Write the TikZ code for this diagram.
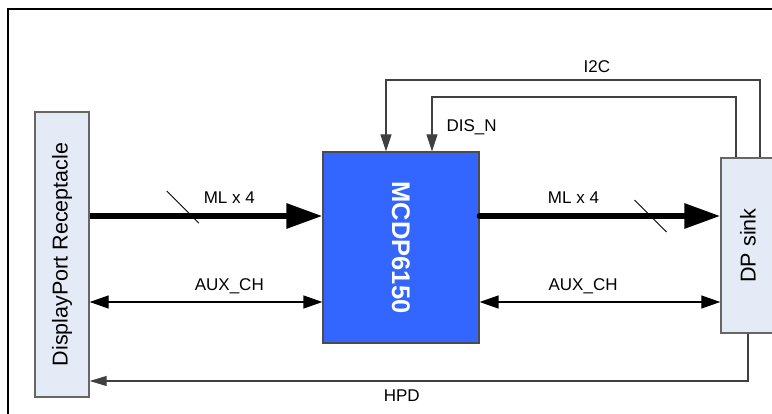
\documentclass[tikz,border=0pt]{standalone}
\usepackage{fontspec}
\setmainfont{Liberation Sans}
\usetikzlibrary{calc,arrows.meta}
\definecolor{boxfill}{HTML}{E4EBF6}
\definecolor{chipblue}{HTML}{3366FF}

\begin{document}
\begin{tikzpicture}[x=1pt,y=1pt,line width=1.3pt,
  lightbox/.style={draw=black!60,fill=boxfill,line width=1.4pt,inner sep=0pt},
  chipbox/.style={draw=black!70,fill=chipblue,line width=1.2pt,inner sep=0pt},
  boxtext/.style={font=\fontsize{21.5}{24}\selectfont,inner sep=0pt},
  chiptext/.style={font=\fontsize{25.5}{28}\selectfont\bfseries,text=white,inner sep=0pt},
  lbl/.style={font=\fontsize{17}{20}\selectfont,inner sep=0pt},
  mainlink/.style={line width=6pt,arrows={-Triangle[length=36pt,width=24pt]}},
  auxlink/.style={line width=1.3pt,arrows={Triangle[length=19pt,width=13pt]-Triangle[length=19pt,width=13pt]}},
  ctrl/.style={draw=black!75,line width=1.2pt,arrows={-Triangle[length=17pt,width=11pt]}},
  slash/.style={line width=0.8pt}]
  \useasboundingbox (0,0) rectangle (772,413);
  \clip (0,0) rectangle (772,413);
  \draw[line width=2.2pt] (8,-20) rectangle (800,404);
  % blocks
  \node[lightbox,minimum width=54pt,minimum height=285pt] (recept) at (62,158.5) {};
  \node[boxtext,rotate=90] (recepttext) at (recept) {DisplayPort Receptacle};
  \node[chipbox,minimum width=156pt,minimum height=191pt] (mcdp) at (401,165.5) {};
  \node[chiptext,rotate=-90] (mcdptext) at (mcdp) {MCDP6150};
  \node[lightbox,minimum width=54pt,minimum height=175pt] (sink) at (748,167.5) {};
  \node[boxtext,rotate=90] (sinktext) at (sink) {DP sink};
  % rows of the connectors
  \coordinate (mlrow) at (0,197); \coordinate (auxrow) at (0,111);
  \coordinate (hpdrow) at (0,32); \coordinate (iicrow) at (0,333); \coordinate (disrow) at (0,316);
  % main link, receptacle -> chip -> sink
  \draw[mainlink] (recept.east |- mlrow) -- coordinate[pos=0.4] (mlcutl) (mcdp.west |- mlrow)
    node[lbl,pos=0.6,yshift=18pt] (mlleft) {ML x 4};
  \draw[slash] ($(mlcutl)+(-16,25)$) -- ($(mlcutl)+(16,-7)$);
  \draw[mainlink,line cap=round] (mcdp.east |- mlrow) -- coordinate[pos=0.71] (mlcutr) (sink.west |- mlrow)
    node[lbl,pos=0.39,yshift=18pt] (mlright) {ML x 4};
  \draw[slash] ($(mlcutr)+(-16,16)$) -- ($(mlcutr)+(16,-16)$);
  % aux channel
  \draw[auxlink] (recept.east |- auxrow) -- (mcdp.west |- auxrow)
    node[lbl,pos=0.6,yshift=16pt] (auxleft) {AUX\_CH};
  \draw[auxlink] (mcdp.east |- auxrow) -- (sink.west |- auxrow)
    node[lbl,pos=0.43,yshift=16pt] (auxright) {AUX\_CH};
  % side band from the sink
  \coordinate (iicout) at ([xshift=12pt]sink.north);
  \coordinate (iicin) at ([xshift=-15pt]mcdp.north);
  \coordinate (disout) at ([xshift=-12pt]sink.north);
  \coordinate (disin) at ([xshift=31pt]mcdp.north);
  \draw[ctrl] (iicout) |- (iicin |- iicrow) node[lbl,pos=0.718,yshift=13pt] (iiclbl) {I2C} -- (iicin);
  \draw[ctrl] (disout) |- (disin |- disrow) -- (disin)
    node[lbl,pos=0.55,right=14pt] (dislbl) {DIS\_N};
  \draw[ctrl,arrows={-Triangle[length=17pt,width=10pt]}] (sink.south) |- (recept.east |- hpdrow)
    node[lbl,pos=0.763,yshift=-15pt] (hpdlbl) {HPD};
\end{tikzpicture}
\end{document}
